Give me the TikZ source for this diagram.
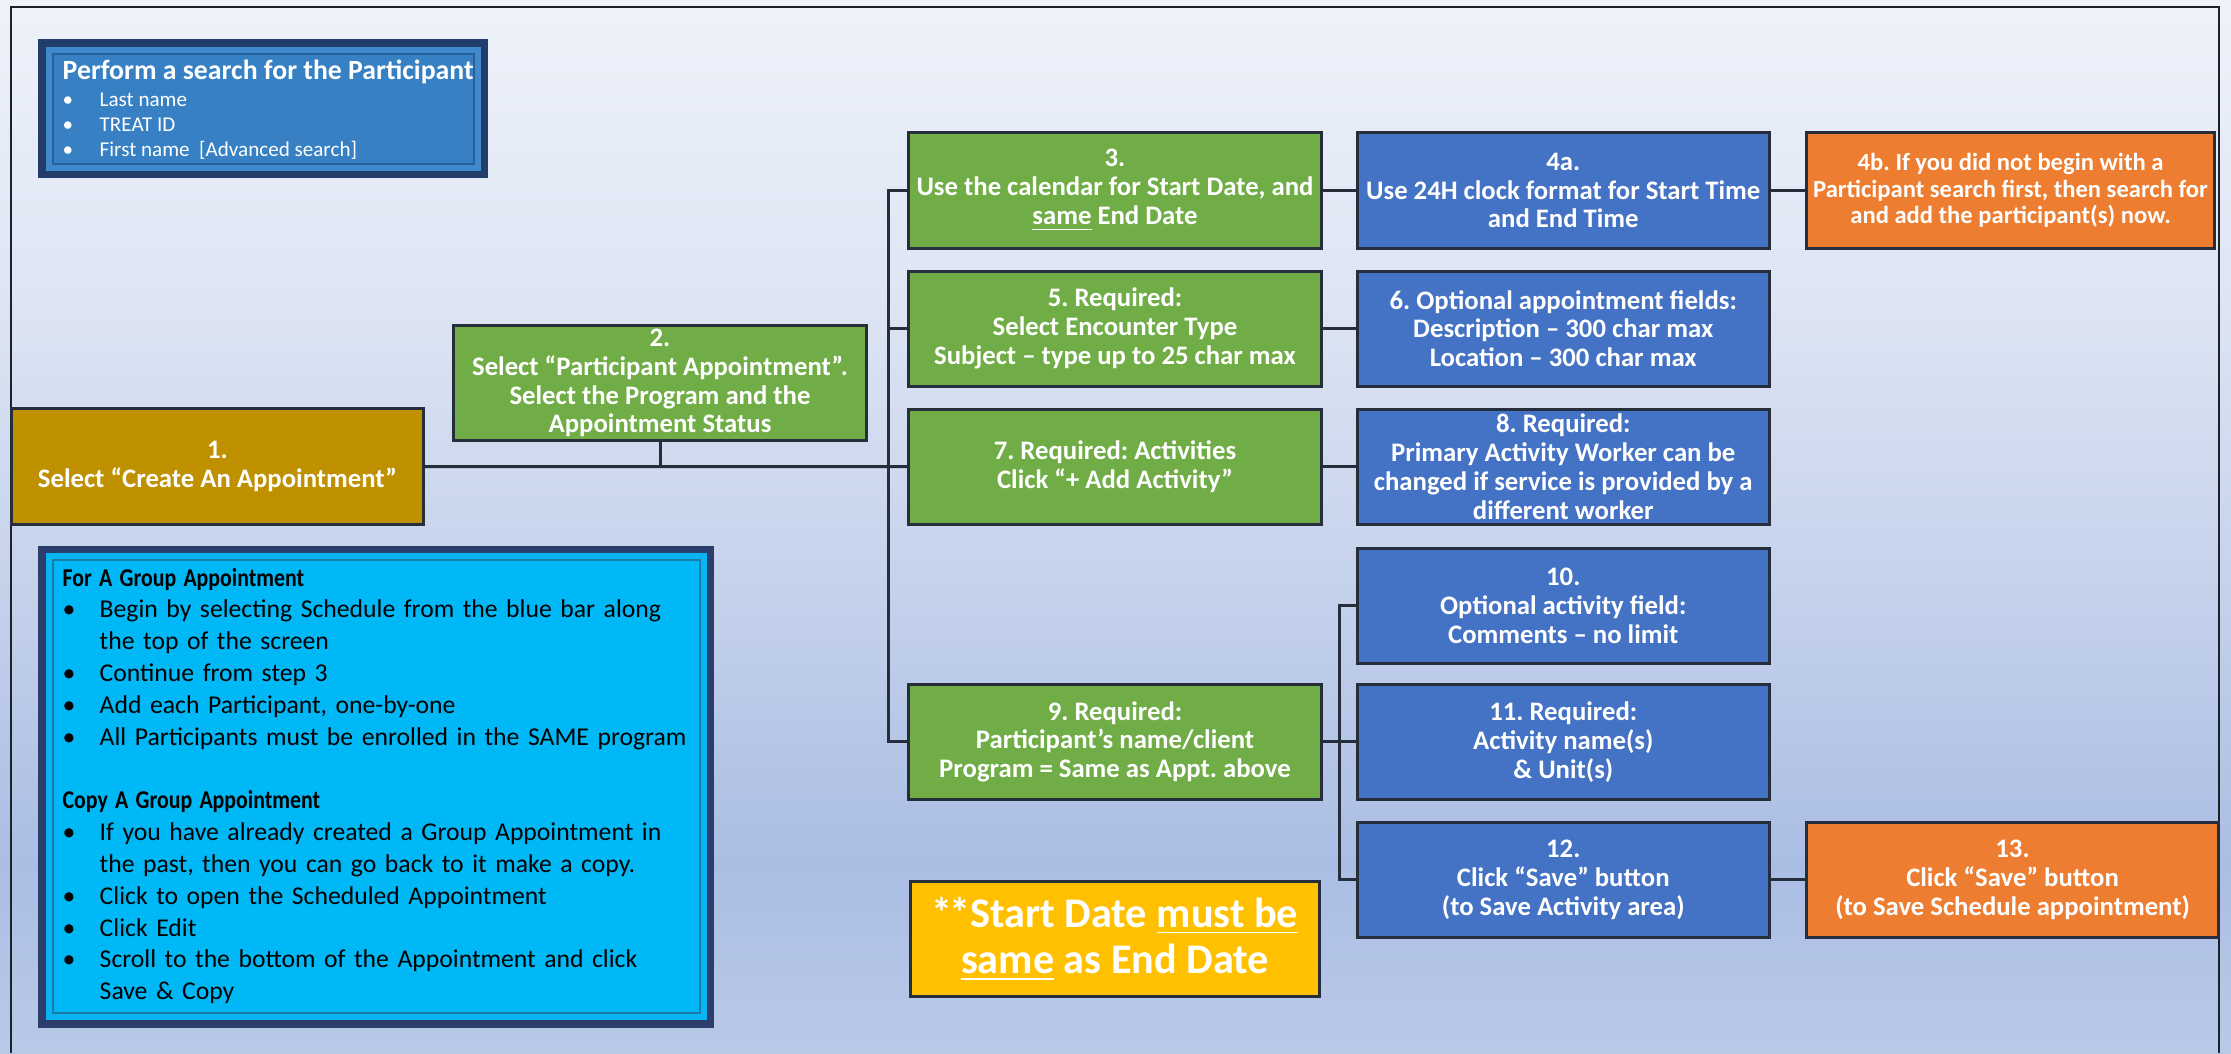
\documentclass[tikz,border=0pt]{standalone}
\usepackage{fontspec}
\setmainfont{Carlito}
\usetikzlibrary{positioning}

\definecolor{stepgreen}{HTML}{70AD47}
\definecolor{stepblue}{HTML}{4472C4}
\definecolor{steporange}{HTML}{ED7D31}
\definecolor{stepgold}{HTML}{BF9000}
\definecolor{noteyellow}{HTML}{FFC000}
\definecolor{linedark}{HTML}{262E3B}
\definecolor{framedark}{HTML}{1E2228}
\definecolor{srchnavy}{HTML}{223D69}
\definecolor{srchband}{HTML}{3F8ACD}
\definecolor{srchline}{HTML}{2A5F98}
\definecolor{srchfill}{HTML}{3680C3}
\definecolor{grpnavy}{HTML}{2B3E6B}
\definecolor{grpband}{HTML}{08B4F2}
\definecolor{grpline}{HTML}{1A7CA6}
\definecolor{grpfill}{HTML}{00B8F6}
\definecolor{bgtop}{HTML}{EEF2FA}
\definecolor{bgup}{HTML}{DCE4F3}
\definecolor{bgmid}{HTML}{C6D3EC}
\definecolor{bgdark}{HTML}{AABDE3}
\definecolor{bgbot}{HTML}{B9C9E8}

\pgfdeclareverticalshading{bgfade}{100bp}{color(0bp)=(bgbot); color(25bp)=(bgbot); color(34bp)=(bgdark); color(48bp)=(bgmid); color(60bp)=(bgup); color(75bp)=(bgtop); color(100bp)=(bgtop)}

\newcommand{\boxfont}{\fontsize{7.6}{8.2}\selectfont\bfseries}
\newcommand{\orangefont}{\fontsize{7}{7.6}\selectfont\bfseries}
\newcommand{\bigfont}{\fontsize{12}{13.2}\selectfont\bfseries}
\newcommand{\grpitem}{\makebox[0.37cm][l]{\textbullet}}
\newcommand{\grpcont}{\hspace*{0.37cm}}
\newcommand{\grphead}[1]{\scalebox{0.85}[1]{\textbf{#1}}}

\begin{document}
\frenchspacing
\begin{tikzpicture}[x=0.01cm, y=-0.01cm,
	stepbox/.style={draw=linedark, line width=0.85pt, minimum width=4.12cm, minimum height=1.15cm, inner sep=0pt, outer sep=0pt, align=center, text=white, font=\boxfont},
	greenbox/.style={stepbox, fill=stepgreen},
	bluebox/.style={stepbox, fill=stepblue},
	orangebox/.style={stepbox, fill=steporange, font=\orangefont},
	link/.style={draw=linedark, line width=0.85pt},
	srchhead/.style={inner sep=0pt, text=white, font=\fontsize{7.9}{8}\selectfont\bfseries},
	srchitem/.style={inner sep=0pt, text=white, font=\fontsize{6}{7}\selectfont}
	]
	\useasboundingbox (0,0) rectangle (2231,1053);
	\shade[shading=bgfade] (0,0) rectangle (2231,1053);
	\draw[framedark, line width=0.55pt] (11,1053) -- (11,7) -- (2219,7) -- (2219,1053);

	% search box
	\fill[srchnavy] (38,39) rectangle (488,178);
	\fill[srchband] (46,47) rectangle (481,171);
	\filldraw[fill=srchfill, draw=srchline, line width=0.4pt] (53,54) rectangle (474,164);
	\node[srchhead, anchor=base west] (srchtitle) at (62,79) {Perform a search for the Participant};
	\foreach \entry[count=\i] in {{Last name}, {TREAT ID}, {First name\ \ [Advanced search]}}{
		\node[srchitem, anchor=base west] (srchitem\i) at (62,{81+25*\i}) {\grpitem\entry};}

	% group box
	\fill[grpnavy] (38,546) rectangle (714,1028);
	\fill[grpband] (46,553) rectangle (707,1020);
	\filldraw[fill=grpfill, draw=grpline, line width=0.5pt] (53,560) rectangle (700,1013);
	\node[anchor=base west, inner sep=0pt, text width=6.4cm, align=left, font=\fontsize{7.3}{9.05}\selectfont] (grouptext) at (62,586) {%
		\grphead{For A Group Appointment}\\
		\grpitem Begin by selecting Schedule from the blue bar along\\
		\grpcont the top of the screen\\
		\grpitem Continue from step 3\\
		\grpitem Add each Participant, one-by-one\\
		\grpitem All Participants must be enrolled in the SAME program\\[9.05pt]
		\grphead{Copy A Group Appointment}\\
		\grpitem If you have already created a Group Appointment in\\
		\grpcont the past, then you can go back to it make a copy.\\
		\grpitem Click to open the Scheduled Appointment\\
		\grpitem Click Edit\\
		\grpitem Scroll to the bottom of the Appointment and click\\
		\grpcont Save \& Copy};

	% steps
	\node[stepbox, fill=stepgold] (step1) at (217.5,466.5) {1.\\Select “Create An Appointment”};
	\node[greenbox] (step2) at (660,383) {2.\\Select “Participant Appointment”.\\Select the Program and the\\Appointment Status};
	\node[greenbox] (step3) at (1115,190.5) {3.\\Use the calendar for Start Date, and\\\underline{same} End Date};
	\node[bluebox, right=0.36cm of step3] (step4a) {4a.\\Use 24H clock format for Start Time\\and End Time};
	\node[orangebox, minimum width=4.08cm, right=0.37cm of step4a] (step4b) {4b. If you did not begin with a\\Participant search first, then search for\\and add the participant(s) now.};
	\node[greenbox, below=0.23cm of step3] (step5) {5. Required:\\Select Encounter Type\\Subject – type up to 25 char max};
	\node[bluebox, right=0.36cm of step5] (step6) {6. Optional appointment fields:\\Description – 300 char max\\Location – 300 char max};
	\node[greenbox, below=0.23cm of step5] (step7) {7. Required: Activities\\Click “+ Add Activity”};
	\node[bluebox, right=0.36cm of step7] (step8) {8. Required:\\Primary Activity Worker can be\\changed if service is provided by a\\different worker};
	\node[bluebox, below=0.24cm of step8] (step10) {10.\\Optional activity field:\\Comments – no limit};
	\node[bluebox, below=0.21cm of step10] (step11) {11. Required:\\Activity name(s)\\\& Unit(s)};
	\node[bluebox, below=0.23cm of step11] (step12) {12.\\Click “Save” button\\(to Save Activity area)};
	\node[orangebox, font=\boxfont, right=0.37cm of step12] (step13) {13.\\Click “Save” button\\(to Save Schedule appointment)};
	\node[greenbox, left=0.36cm of step11] (step9) {9. Required:\\Participant’s name/client\\Program = Same as Appt. above};
	\node[stepbox, fill=noteyellow, minimum width=4.09cm, font=\bigfont, below=0.82cm of step9] (startnote) {*\kern-0.08em*Start Date \underline{must be}\\\underline{same} as End Date};

	% connectors
	\draw[link] (step1.east) -- (step7.west);
	\draw[link] (step2.south) -- (step2.south |- step1.east);
	\draw[link] (step3.west) -- ++(-20,0) |- (step9.west);
	\draw[link] (step5.west) -- ++(-20,0);
	\draw[link] (step3) -- (step4a);
	\draw[link] (step4a) -- (step4b);
	\draw[link] (step5) -- (step6);
	\draw[link] (step7) -- (step8);
	\draw[link] (step9) -- (step11);
	\draw[link] (step10.west) -- ++(-18,0) |- (step12.west);
	\draw[link] (step12) -- (step13);
\end{tikzpicture}
\end{document}
